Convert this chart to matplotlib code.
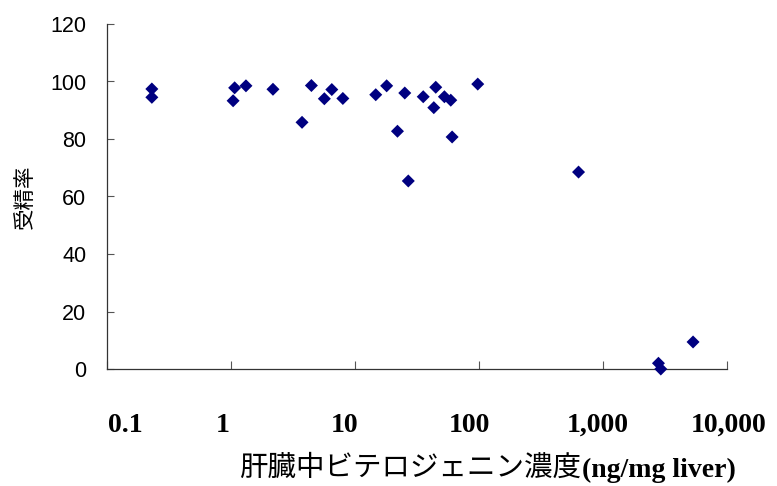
import matplotlib
matplotlib.use("Agg")
import matplotlib.pyplot as plt
from matplotlib.transforms import ScaledTranslation

# Data
liver_vtg = [0.23, 0.23, 1.04, 1.07, 1.32, 2.18, 3.74, 4.45, 5.66, 6.50, 7.98,
             14.7, 18.0, 22.0, 25.2, 26.9, 35.5, 43.2, 44.8, 52.6, 59.2, 60.7,
             97.7, 635, 5324, 2800, 2925]
fert_rate = [97.4, 94.5, 93.3, 97.8, 98.5, 97.3, 85.8, 98.6, 94.0, 97.2, 94.1,
             95.4, 98.5, 82.7, 96.0, 65.4, 94.7, 90.9, 98.0, 94.7, 93.5, 80.7,
             99.1, 68.5, 9.4, 2.0, 0.0]
x_ticks = [0.1, 1, 10, 100, 1000, 10000]
x_ticklabels = ["0.1", "1", "10", "100", "1,000", "10,000"]
y_ticks = [0, 20, 40, 60, 80, 100, 120]

W, H = 777, 486
fig = plt.figure(figsize=(W / 100, H / 100), dpi=100)
ax = fig.add_axes([107 / W, 1 - 369 / H, 620 / W, 345 / H])

ax.scatter(liver_vtg, fert_rate, marker="D", s=44, color="#000080",
           edgecolors="none", clip_on=False, zorder=3)

ax.set_xscale("log")
ax.set_xlim(0.1, 10000)
ax.set_ylim(0, 120)
ax.minorticks_off()

ax.set_xticks(x_ticks)
ax.set_xticklabels(x_ticklabels, fontfamily="Liberation Serif",
                   fontweight="bold", fontsize=20)
ax.set_yticks(y_ticks)
ax.set_yticklabels([str(v) for v in y_ticks], fontfamily="Liberation Sans",
                   fontsize=15.5)

ax.tick_params(axis="x", direction="in", length=6, width=0.8, colors="#555555",
               pad=31.5, labelcolor="black")
ax.tick_params(axis="y", direction="in", length=5, width=0.8, colors="#555555",
               pad=15, labelcolor="black")

for s in ["top", "right"]:
    ax.spines[s].set_visible(False)
for s in ["left", "bottom"]:
    ax.spines[s].set_color("#333333")
    ax.spines[s].set_linewidth(0.9)

# Excel-like label placement offsets (pixels)
offsets = [18, -8, -10, -10, -5, 2]
for lab, dx in zip(ax.get_xticklabels(), offsets):
    lab.set_transform(lab.get_transform() +
                      ScaledTranslation(dx / 100, 0, fig.dpi_scale_trans))

# y label
fig.text(25 / W, 1 - 197 / H, "受精率", rotation=90, ha="center", va="center",
         fontfamily="Noto Sans CJK JP", fontsize=15.5)

# x label: Japanese part (gothic) + Latin part (bold serif)
t1 = fig.text(239 / W, 1 - 476 / H, "肝臓中ビテロジェニン濃度",
              ha="left", va="baseline", fontfamily="Noto Sans CJK JP",
              fontsize=20.5)
ax.annotate("(ng/mg liver)", xy=(1, 0), xycoords=t1, xytext=(1, 0),
            textcoords="offset points", ha="left", va="bottom",
            fontfamily="Liberation Serif", fontweight="bold", fontsize=20,
            annotation_clip=False)

fig.savefig("out.png", dpi=100)
